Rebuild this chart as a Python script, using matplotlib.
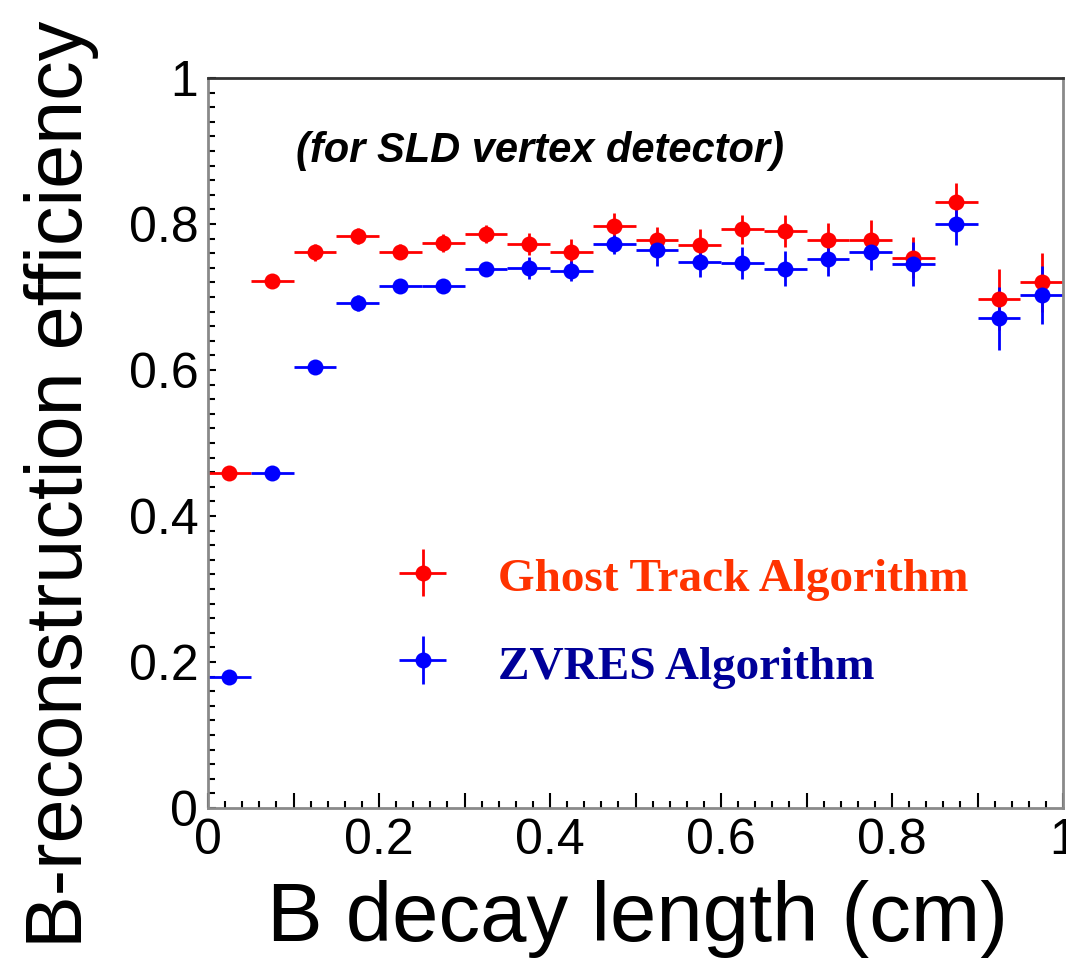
import numpy as np
import matplotlib
matplotlib.use("Agg")
import matplotlib.pyplot as plt
from matplotlib.ticker import MultipleLocator, FuncFormatter

# ---- data ----
bin_centers = [0.025, 0.075, 0.125, 0.175, 0.225, 0.275, 0.325, 0.375, 0.425, 0.475,
               0.525, 0.575, 0.625, 0.675, 0.725, 0.775, 0.825, 0.875, 0.925, 0.975]
bin_half_width = 0.025

ghost_eff = [0.459, 0.722, 0.761, 0.783, 0.762, 0.774, 0.786, 0.773, 0.762, 0.797,
             0.778, 0.771, 0.793, 0.791, 0.778, 0.778, 0.754, 0.830, 0.697, 0.720]
ghost_err = [0.008, 0.010, 0.012, 0.011, 0.010, 0.012, 0.012, 0.015, 0.017, 0.018,
             0.018, 0.022, 0.020, 0.022, 0.024, 0.027, 0.028, 0.026, 0.042, 0.040]

zvres_eff = [0.179, 0.459, 0.604, 0.692, 0.715, 0.715, 0.738, 0.740, 0.736, 0.772,
             0.764, 0.748, 0.747, 0.739, 0.752, 0.762, 0.745, 0.800, 0.671, 0.703]
zvres_err = [0.008, 0.008, 0.008, 0.011, 0.010, 0.010, 0.009, 0.015, 0.014, 0.013,
             0.021, 0.021, 0.022, 0.024, 0.023, 0.025, 0.030, 0.029, 0.043, 0.040]

labels = ["Ghost Track Algorithm", "ZVRES Algorithm"]
label_colors = ["#FF3300", "#000099"]
marker_colors = ["#FF0000", "#0000FF"]
xlabel = "B decay length (cm)"
ylabel = "B-reconstruction efficiency"
note = "(for SLD vertex detector)"

# ---- figure ----
fig = plt.figure(figsize=(10.66, 9.69), dpi=100)
ax = fig.add_axes([208/1066, 1 - 808/969, (1063-208)/1066, (808-78)/969])

sans = "Liberation Sans"

handles = []
for eff, err, col in [(ghost_eff, ghost_err, marker_colors[0]),
                      (zvres_eff, zvres_err, marker_colors[1])]:
    h = ax.errorbar(bin_centers, eff, xerr=bin_half_width, yerr=err,
                    fmt="o", color=col, ecolor=col, markersize=11.5,
                    elinewidth=2.0, capsize=0, markeredgewidth=0)
    handles.append(h)

ax.set_xlim(0, 1)
ax.set_ylim(0, 1)

ax.xaxis.set_major_locator(MultipleLocator(0.1))
ax.xaxis.set_minor_locator(MultipleLocator(0.02))
ax.yaxis.set_major_locator(MultipleLocator(0.2))
ax.yaxis.set_minor_locator(MultipleLocator(0.02))

def xfmt(v, pos):
    k = int(round(v * 10))
    if k % 2:
        return ""
    if k == 0:
        return "0"
    if k == 10:
        return "1"
    return "%.1f" % v

def yfmt(v, pos):
    if abs(v) < 1e-9:
        return "0"
    if abs(v - 1) < 1e-9:
        return "1"
    return "%.1f" % v

ax.xaxis.set_major_formatter(FuncFormatter(xfmt))
ax.yaxis.set_major_formatter(FuncFormatter(yfmt))

ax.tick_params(axis="both", which="both", direction="in", top=False, right=False,
               color="black", width=1.5)
ax.tick_params(axis="x", which="major", length=11, pad=7)
ax.tick_params(axis="x", which="minor", length=5)
ax.tick_params(axis="y", which="major", length=6, pad=7)
ax.tick_params(axis="y", which="minor", length=5)

for lab in ax.get_xticklabels() + ax.get_yticklabels():
    lab.set_fontfamily(sans)
    lab.set_fontsize(36)

for s in ["left", "bottom", "right"]:
    ax.spines[s].set_color("#8a8a8a")
    ax.spines[s].set_linewidth(2)
ax.spines["top"].set_color("#333333")
ax.spines["top"].set_linewidth(2)

ax.set_xlabel(xlabel, fontfamily=sans, fontsize=60)
ax.xaxis.set_label_coords(0.502, -0.098)
ax.set_ylabel(ylabel, fontfamily=sans, fontsize=57)
ax.yaxis.set_label_coords(-0.128, 0.444)

ax.text(0.388, 0.90, note, transform=ax.transAxes, ha="center", va="center",
        fontfamily=sans, fontsize=30, fontweight="bold", fontstyle="italic")

leg = ax.legend(handles, labels, loc="upper left", bbox_to_anchor=(0.215, 0.348),
                frameon=False, prop={"family": "Liberation Serif", "weight": "bold", "size": 34},
                handlelength=1.3, handletextpad=0.95, labelspacing=0.85, borderpad=0,
                borderaxespad=0, handleheight=1.0)
for t, c in zip(leg.get_texts(), label_colors):
    t.set_color(c)

fig.savefig("out.png", dpi=100)
